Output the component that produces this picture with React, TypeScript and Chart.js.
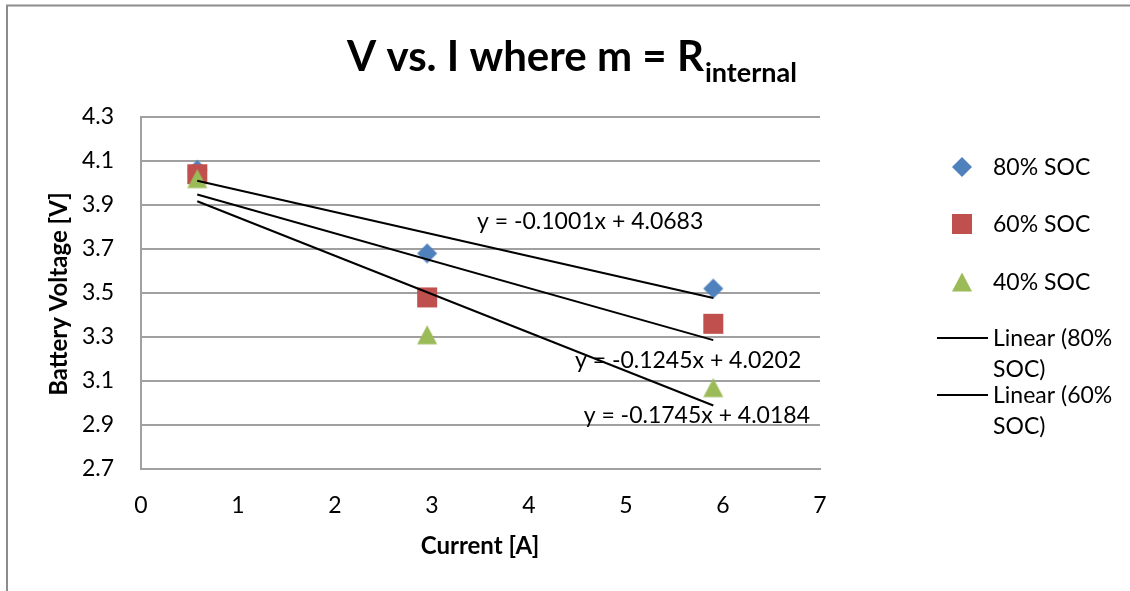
import React, { useEffect, useRef } from "react";
import { Chart, registerables } from "chart.js";

Chart.register(...registerables);

// ---- data ----
const currents = [0.58, 2.95, 5.9];
const soc80 = [4.06, 3.68, 3.52];
const soc60 = [4.04, 3.48, 3.36];
const soc40 = [4.02, 3.31, 3.07];
const slopes = [-0.1001, -0.1245, -0.1745];
const intercepts = [4.0683, 4.0202, 4.0184];
const equationLabels = [
  "y = -0.1001x + 4.0683",
  "y = -0.1245x + 4.0202",
  "y = -0.1745x + 4.0184",
];
const equationAnchorX = [4.63, 5.64, 5.73];
const equationAnchorY = [3.823, 3.195, 2.945];
const seriesNames = ["80% SOC", "60% SOC", "40% SOC"];
const trendLegend = [
  ["Linear (80%", "SOC)"],
  ["Linear (60%", "SOC)"],
];
const xTicks = [0, 1, 2, 3, 4, 5, 6, 7];
const yTicks = [2.7, 2.9, 3.1, 3.3, 3.5, 3.7, 3.9, 4.1, 4.3];

const COLORS = ["#4F81BD", "#C0504D", "#9BBB59"];
const SHAPES = ["diamond", "square", "triangle"];
const GRID = "#a0a0a0";
const FONT = "Lato, 'Open Sans', sans-serif";

function makeMarker(shape: string, color: string): HTMLCanvasElement {
  const c = document.createElement("canvas");
  c.width = 22;
  c.height = 22;
  const g = c.getContext("2d")!;
  g.fillStyle = color;
  g.beginPath();
  if (shape === "diamond") {
    g.moveTo(11, 1);
    g.lineTo(21, 11);
    g.lineTo(11, 21);
    g.lineTo(1, 11);
  } else if (shape === "square") {
    g.rect(1, 1, 20, 20);
  } else {
    g.moveTo(11, 1.5);
    g.lineTo(21, 20.5);
    g.lineTo(1, 20.5);
  }
  g.closePath();
  g.fill();
  return c;
}

export default function App() {
  const ref = useRef<HTMLCanvasElement | null>(null);

  useEffect(() => {
    if (!ref.current) return;
    const markers = SHAPES.map((s, i) => makeMarker(s, COLORS[i]));
    const seriesValues = [soc80, soc60, soc40];

    const pointSets = seriesValues.map((vals, i) => ({
      type: "scatter" as const,
      label: seriesNames[i],
      data: currents.map((x, k) => ({ x, y: vals[k] })),
      pointStyle: markers[i],
      pointRadius: 11,
      showLine: false,
      order: 3 - i + 1,
    }));

    const x0 = currents[0];
    const x1 = currents[currents.length - 1];
    const trendSets = slopes.map((m, i) => ({
      type: "scatter" as const,
      label: "Linear (" + seriesNames[i] + ")",
      data: [
        { x: x0, y: m * x0 + intercepts[i] },
        { x: x1, y: m * x1 + intercepts[i] },
      ],
      showLine: true,
      borderColor: "#000",
      borderWidth: 2,
      pointRadius: 0,
      order: 0,
    }));

    const decor = {
      id: "decor",
      beforeDraw(chart: any) {
        const ctx = chart.ctx;
        ctx.save();
        ctx.fillStyle = "#fff";
        ctx.fillRect(0, 0, chart.width, chart.height);
        ctx.strokeStyle = "#8c8c8c";
        ctx.lineWidth = 2;
        ctx.beginPath();
        ctx.moveTo(7, 591);
        ctx.lineTo(7, 5.5);
        ctx.lineTo(1130, 5.5);
        ctx.stroke();
        ctx.restore();
      },
      afterDraw(chart: any) {
        const ctx = chart.ctx;
        const xs = chart.scales.x;
        const ys = chart.scales.y;
        ctx.save();
        ctx.fillStyle = "#000";

        // title with subscript
        const mainText = "V vs. I where m = R";
        const subText = "internal";
        ctx.font = `bold 42px ${FONT}`;
        const wMain = ctx.measureText(mainText).width;
        ctx.font = `bold 27px ${FONT}`;
        const wSub = ctx.measureText(subText).width;
        const startX = 571.5 - (wMain + wSub) / 2;
        ctx.textBaseline = "alphabetic";
        ctx.textAlign = "left";
        ctx.font = `bold 42px ${FONT}`;
        ctx.fillText(mainText, startX, 71);
        ctx.font = `bold 27px ${FONT}`;
        ctx.fillText(subText, startX + wMain + 1, 82);

        // axis titles
        ctx.font = `bold 24px ${FONT}`;
        ctx.textAlign = "center";
        ctx.textBaseline = "middle";
        ctx.fillText("Current [A]", 480, 546);
        ctx.save();
        ctx.translate(59, 294);
        ctx.rotate(-Math.PI / 2);
        ctx.fillText("Battery Voltage [V]", 0, 0);
        ctx.restore();

        // trendline equations
        ctx.font = `23px ${FONT}`;
        equationLabels.forEach((t, i) => {
          ctx.fillText(
            t,
            xs.getPixelForValue(equationAnchorX[i]),
            ys.getPixelForValue(equationAnchorY[i])
          );
        });

        // legend
        ctx.font = `23px ${FONT}`;
        ctx.textAlign = "left";
        const markerY = [167, 224, 282];
        seriesNames.forEach((n, i) => {
          ctx.drawImage(markers[i], 962 - 11, markerY[i] - 11);
          ctx.fillText(n, 993, markerY[i] + 1);
        });
        const lineY = [338, 395];
        trendLegend.forEach((lines, i) => {
          ctx.strokeStyle = "#000";
          ctx.lineWidth = 2;
          ctx.beginPath();
          ctx.moveTo(937, lineY[i]);
          ctx.lineTo(988, lineY[i]);
          ctx.stroke();
          lines.forEach((ln, k) => {
            ctx.fillText(ln, 993, lineY[i] + 1 + k * 31);
          });
        });
        ctx.restore();
      },
    };

    const chart = new Chart(ref.current, {
      type: "scatter",
      data: { datasets: [...pointSets, ...trendSets] as any },
      options: {
        responsive: false,
        animation: false,
        devicePixelRatio: 1,
        layout: { padding: { top: 117, right: 310, left: 0, bottom: 0 } },
        plugins: {
          legend: { display: false },
          title: { display: false },
          tooltip: { enabled: false },
        },
        scales: {
          x: {
            type: "linear",
            min: 0,
            max: 7,
            afterBuildTicks: (s: any) => {
              s.ticks = xTicks.map((v) => ({ value: v }));
            },
            afterFit: (s: any) => {
              s.height = 122;
            },
            grid: { display: false, drawTicks: false },
            border: { display: true, color: GRID, width: 2 },
            ticks: {
              font: { family: FONT, size: 23 },
              color: "#000",
              padding: 23,
              maxRotation: 0,
            },
          },
          y: {
            type: "linear",
            min: 2.7,
            max: 4.3,
            afterBuildTicks: (s: any) => {
              s.ticks = yTicks.map((v) => ({ value: v }));
            },
            afterFit: (s: any) => {
              s.width = 141;
            },
            grid: { color: GRID, lineWidth: 2, drawTicks: false },
            border: { display: true, color: GRID, width: 2 },
            ticks: {
              font: { family: FONT, size: 23 },
              color: "#000",
              padding: 27,
              callback: (v: any) => Number(v).toFixed(1),
            },
          },
        },
      },
      plugins: [decor],
    });
    return () => chart.destroy();
  }, []);

  return (
    <div style={{ position: "fixed", left: 0, top: 0, width: 1130, height: 591, background: "#fff" }}>
      <canvas ref={ref} width={1130} height={591} style={{ display: "block" }} />
    </div>
  );
}
